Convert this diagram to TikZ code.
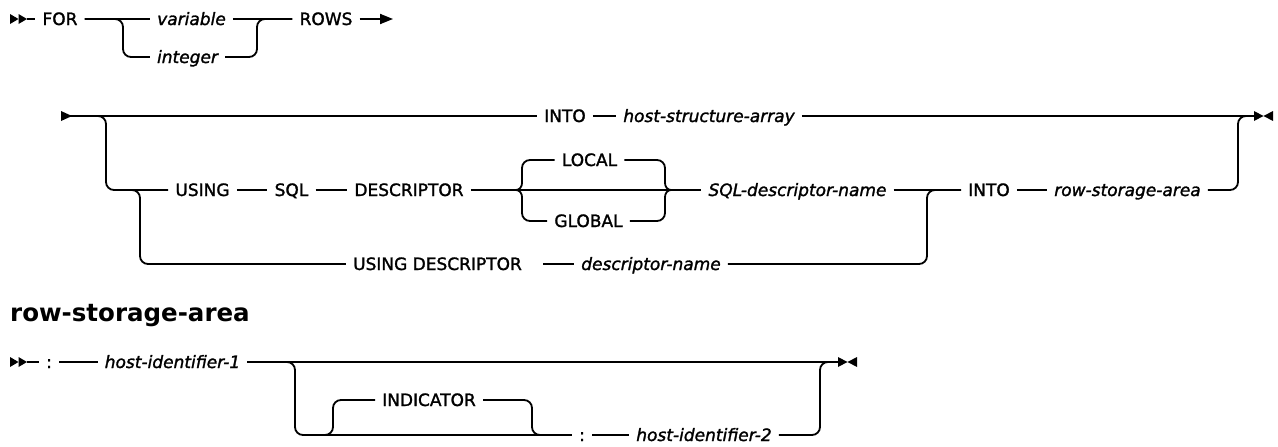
\documentclass[tikz,border=0pt]{standalone}
\usepackage{fontspec}
\setmainfont{DejaVu Sans}
\newfontfamily\railfont{DejaVu Sans}[FakeBold=1.5]
\usetikzlibrary{arrows.meta}
\tikzset{
  lbl/.style={inner xsep=7pt, inner ysep=0pt, text height=12pt, text depth=0pt,
              font=\railfont\fontsize{17}{19}\selectfont},
  kw/.style={lbl},
  var/.style={lbl, font=\railfont\fontsize{17}{19}\selectfont\itshape},
  rail/.style={line width=1.8pt, rounded corners=8pt},
  brace/.style={line width=1.8pt},
  heading/.style={anchor=base west, inner sep=0pt, font=\bfseries\fontsize{24.5}{28}\selectfont},
}
\begin{document}
\begin{tikzpicture}[x=1pt,y=-1pt]
\useasboundingbox (0,0) rectangle (1278,447);

% ---------------- Row 1 ----------------
\coordinate (s1) at (27,19);
\coordinate (e1) at (393,19);
\coordinate (b1) at (123,19);
\coordinate (m1) at (257,57);
\fill (10,14) -- (18.5,19) -- (10,24) -- cycle;
\fill (18.5,14) -- (27,19) -- (18.5,24) -- cycle;
\node[kw]  (for)      at (60,19)    {FOR};
\node[var] (variable) at (191.5,19) {variable};
\node[var] (integer)  at (187.5,57) {integer};
\node[kw]  (rows)     at (326,19)   {ROWS};
\draw[rail] (s1) -- (for.west);
\draw[rail] (for.east) -- (variable.west);
\draw[rail] (variable.east) -- (rows.west);
\draw[rail] (for.east) -- (b1) |- (integer.west);
\draw[rail] (integer.east) -- (m1) -- (m1 |- rows) -- (rows.west);
\draw[line width=1.8pt, -{Triangle[length=13pt,width=10pt]}] (rows.east) -- (e1);

% ---------------- Row 2 ----------------
\coordinate (s2) at (67,116);
\coordinate (e2) at (1254,116);
\fill (61,111) -- (72,116) -- (61,121) -- cycle;
\fill (1254,111) -- (1263.5,116) -- (1254,121) -- cycle;
\fill (1273,111) -- (1263.5,116) -- (1273,121) -- cycle;

\node[kw]  (into1)     at (565,116)   {INTO};
\node[var] (hsa)       at (709,116)   {host-structure-array};
\node[kw]  (using)     at (202.5,190) {USING};
\node[kw]  (sql)       at (291.5,190) {SQL};
\node[kw]  (desc)      at (409,190)   {DESCRIPTOR};
\node[kw]  (local)     at (589.5,160) {LOCAL};
\node[kw]  (global)    at (588.5,221) {GLOBAL};
\node[var] (sqldn)     at (797.5,190) {SQL-descriptor-name};
\node[kw]  (into2)     at (989,190)   {INTO};
\node[var] (rsa)       at (1127.5,190){row-storage-area};
\node[kw]  (usingdesc) at (437.5,264) {USING DESCRIPTOR};
\node[var] (dn)        at (651,264)   {descriptor-name};

\draw[rail] (s2) -- (into1.west);
\draw[rail] (into1.east) -- (hsa.west);
\draw[rail] (hsa.east) -- (e2);

% first alternative
\coordinate (b2) at (106,116);
\draw[rail] (s2) -- (b2) -- (b2 |- using) -- (using.west);
\draw[rail] (using.east) -- (sql.west);
\draw[rail] (sql.east) -- (desc.west);
\draw[rail] (desc.east) -- (sqldn.west);
% braces
\draw[brace] (local.west) -- (530,160) to[out=180,in=90] (522,168) -- (522,183)
   to[out=-90,in=0] (516,190) to[out=0,in=90] (522,197) -- (522,213)
   to[out=-90,in=180] (530,221) -- (global.west);
\draw[brace] (local.east) -- (657,160) to[out=0,in=90] (665,168) -- (665,183)
   to[out=-90,in=180] (671,190) to[out=180,in=90] (665,197) -- (665,213)
   to[out=-90,in=0] (657,221) -- (global.east);
% second alternative
\coordinate (b3) at (125,190);
\coordinate (b4) at (140,190);
\draw[rail] (b3) -- (b4) -- (b4 |- usingdesc) -- (usingdesc.west);
\draw[rail, shorten <=14pt] (usingdesc.east) -- (dn.west);
% merge
\coordinate (m2) at (927,264);
\draw[rail] (dn.east) -- (m2) -- (m2 |- into2) -- (into2.west);
\draw[rail] (sqldn.east) -- (into2.west);
\draw[rail] (into2.east) -- (rsa.west);
\coordinate (m3) at (1238,190);
\draw[rail] (rsa.east) -- (m3) -- (m3 |- e2) -- (e2);

% ---------------- Heading ----------------
\node[heading] (head) at (10,321) {row-storage-area};

% ---------------- Row 3 ----------------
\coordinate (s3) at (27,362);
\coordinate (e3) at (838,362);
\fill (10,357) -- (18.5,362) -- (10,367) -- cycle;
\fill (18.5,357) -- (27,362) -- (18.5,367) -- cycle;
\fill (838,357) -- (847.5,362) -- (838,367) -- cycle;
\fill (857,357) -- (847.5,362) -- (857,367) -- cycle;

\node[kw]  (c1)  at (49,362)    {:};
\node[var] (h1)  at (172.5,362) {host-identifier-1};
\node[kw]  (ind) at (429,400)   {INDICATOR};
\node[kw]  (c2)  at (582,435)   {:};
\node[var] (h2)  at (704,435)   {host-identifier-2};

\draw[rail] (s3) -- (c1.west);
\draw[rail] (c1.east) -- (h1.west);
\draw[rail] (h1.east) -- (e3);
\coordinate (b5) at (295,362);
\draw[rail] (h1.east) -- (b5) -- (b5 |- c2) -- (c2.west);
\coordinate (b6) at (318,435);
\coordinate (b7) at (333,435);
\draw[rail] (b6) -- (b7) -- (b7 |- ind) -- (ind.west);
\coordinate (m4) at (532,400);
\draw[rail] (ind.east) -- (m4) -- (m4 |- c2) -- (c2.west);
\draw[rail] (c2.east) -- (h2.west);
\coordinate (m5) at (820,435);
\draw[rail] (h2.east) -- (m5) -- (m5 |- e3) -- (e3);
\end{tikzpicture}
\end{document}
